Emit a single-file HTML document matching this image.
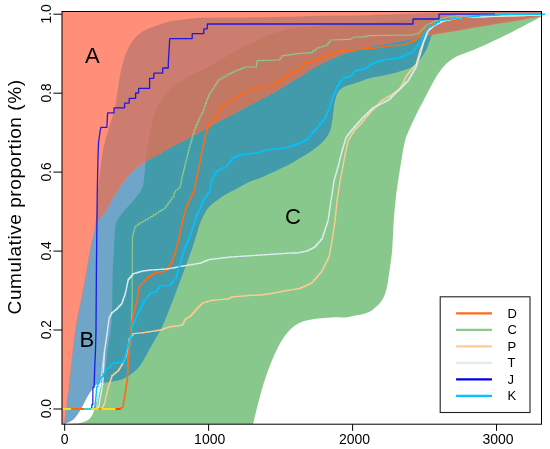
<!DOCTYPE html>
<html lang="en"><head><meta charset="utf-8"><title>Cumulative proportion</title>
<style>
html,body{margin:0;padding:0;background:#fff;}
body{width:550px;height:449px;overflow:hidden;}
svg{display:block;font-family:"Liberation Sans",Arial,Helvetica,sans-serif;fill:#000;}
.ln{fill:none;stroke-linejoin:bevel;stroke-linecap:butt;}
</style></head><body>
<svg width="550" height="449" viewBox="0 0 550 449">
<defs>
<clipPath id="box"><rect x="62" y="11.5" width="479.5" height="412.7"/></clipPath>
<mask id="cB" maskUnits="userSpaceOnUse" x="0" y="0" width="550" height="449"><path d="M63.6 424C63.7 423.7 63.8 423.7 64.1 422C64.4 420.3 64.6 419.6 65.4 413.6C66.2 407.6 67.5 396.3 68.7 386C69.9 375.7 71.1 362.7 72.4 352C73.7 341.3 74.9 331.1 76.4 322C77.9 312.9 79.7 306 81.4 297.3C83.1 288.6 85 278.1 86.5 270C88 261.9 88.7 256.3 90.1 249C91.5 241.7 93.9 232.9 95 226.4C96.1 219.9 96 216.1 96.5 210C97 203.9 97.4 196.3 98 190C98.6 183.7 99.2 178.2 100 172C100.8 165.8 101.5 158.7 102.5 153C103.5 147.3 104.8 142.8 106 138C107.2 133.2 108.6 129 110 124.5C111.4 120 113.1 115.3 114.2 111C115.3 106.7 115.6 104 116.4 98.9C117.2 93.8 118.3 85.7 119.2 80.2C120.1 74.7 120.8 70.8 122 66.1C123.2 61.4 124.8 56.4 126.6 52.1C128.4 47.8 130.1 43.8 132.8 40.4C135.5 37 138.3 34.1 142.7 31.5C147.1 28.9 153.5 26.6 159 24.8C164.5 23 169 21.7 175.5 20.6C182 19.5 190.8 18.5 198.2 18C205.6 17.5 211.4 17.5 220 17.4C228.6 17.3 236.7 17.6 250 17.4C263.3 17.2 285.7 16.7 300 16.4C314.3 16.1 326 15.8 336 15.6C346 15.4 346 15.8 360 15.4C374 15 403.3 13.7 420 13.2C436.7 12.7 439.8 12.5 460 12.2C480.2 11.9 527.5 11.5 541 11.3L541.5 15.4C536.2 16.2 520.2 18.8 510 20.4C499.8 22 490 23.5 480 25.2C470 26.9 457.7 29.2 450 30.6C442.3 32 437.3 31.9 434 33.5C430.7 35.1 431.3 37.2 430 40C428.7 42.8 428 46.3 426 50C424 53.7 420.7 59 418 62C415.3 65 414.7 66 410 68C405.3 70 396.7 72.3 390 74C383.3 75.7 375 76.8 370 78C365 79.2 363 80.5 360 81.5C357 82.5 355 82.9 352 84C349 85.1 344.5 86.3 342 88C339.5 89.7 338.3 91 337 94C335.7 97 334.8 101.3 334 106C333.2 110.7 332.8 117.5 332 122C331.2 126.5 330.7 129.6 329 133C327.3 136.4 324.8 139.6 322 142.5C319.2 145.4 315.7 147.9 312 150.5C308.3 153.1 303.7 155.8 300 158C296.3 160.2 295 161.4 290 164C285 166.6 275 171.2 270 173.5C265 175.8 263.3 176.7 260 178C256.7 179.3 252.3 180.6 250 181.5C247.7 182.4 248.7 182.1 246 183.5C243.3 184.9 236.7 188.6 234 190C231.3 191.4 232.3 190.7 230 192C227.7 193.3 223.7 195.3 220 198C216.3 200.7 211.2 204 208 208C204.8 212 202.5 217.3 200.5 222C198.5 226.7 197.5 231.3 196 236C194.5 240.7 193.2 245.2 191.5 250C189.8 254.8 187.8 260.2 186 265C184.2 269.8 183.1 272.9 181 278.5C178.9 284.1 175.7 292.8 173.5 298.5C171.3 304.2 169.9 307.8 168 312.5C166.1 317.2 164.1 322.7 162 327C159.9 331.3 157.7 334.7 155.5 338.5C153.3 342.3 150.7 347 149 350C147.3 353 147 354 145.5 356.6C144 359.2 142.1 362.9 140 365.6C137.9 368.3 135.4 370.9 132.7 373C130 375.1 126.6 377.1 123.6 378.5C120.6 379.9 117.2 380.5 114.5 381.1C111.8 381.7 109.5 381.9 107.3 382.2C105.1 382.5 103.3 382.4 101.4 382.8C99.5 383.2 97.8 383.5 96 384.9C94.2 386.3 92.2 389.2 90.7 391.4C89.2 393.6 88 395.6 86.7 398C85.4 400.4 84 403.6 82.7 406C81.4 408.4 80.2 410.5 78.7 412.7C77.2 414.9 75.5 417.6 73.4 419.4C71.3 421.2 67.5 422.6 66 423.4C64.5 424.2 64.8 424.1 64.5 424.2Z" fill="#fff"/></mask>
<mask id="cC" maskUnits="userSpaceOnUse" x="0" y="0" width="550" height="449"><path d="M66 424.2C67.5 424.1 72.4 423.8 75 423.6C77.6 423.4 79.2 423.4 81.4 422.8C83.6 422.2 86.2 421.2 88 420C89.8 418.8 91 417.1 92 415.4C93 413.7 93.5 412.2 94.2 410C94.9 407.8 95.5 404.9 96.3 402C97.1 399.1 98 395.8 98.9 392.7C99.8 389.6 100.8 386 101.6 383.4C102.3 380.8 102.8 379.6 103.4 377C104.1 374.4 104.8 372.5 105.5 368C106.2 363.5 106.8 355.5 107.6 350C108.3 344.5 109.3 339.7 110 335C110.7 330.3 111.1 326.8 111.5 322C111.9 317.2 112 314.7 112.2 306C112.4 297.3 112.5 278.8 112.8 270C113.1 261.2 113.5 258.7 113.8 253C114.1 247.3 114 241.2 114.5 236C115 230.8 115.1 226 116.6 222C118.1 218 120.7 215.4 123.5 211.8C126.3 208.2 130.4 204.2 133.3 200.7C136.2 197.1 139.2 193.5 140.9 190.5C142.6 187.5 142.8 187.3 143.6 182.7C144.4 178.1 144.9 169.1 145.5 163C146.1 156.9 146.4 152.2 147.3 146.4C148.2 140.6 149.6 133.9 151 128C152.4 122.1 153.9 115.5 155.5 111C157.1 106.5 158.4 104.6 160.8 101C163.2 97.4 166.7 93 170.2 89.5C173.7 86 178 82.7 181.9 80.2C185.8 77.7 189.7 76.2 193.6 74.3C197.5 72.3 200.9 70.8 205.3 68.5C209.7 66.2 214.2 63.6 220 60.3C225.8 57 235 51.2 240 48.5C245 45.8 246.7 45.6 250 44C253.3 42.4 256.7 40.6 260 39C263.3 37.4 265 36.2 270 34.5C275 32.8 283.3 30.4 290 29C296.7 27.6 302.5 27.1 310 26.4C317.5 25.7 326.7 25.2 335 24.8C343.3 24.4 347.3 24.9 360 24C372.7 23.1 394.3 20.7 411 19.6C427.7 18.5 445.2 17.8 460 17.2C474.8 16.6 486.5 16.4 500 16C513.5 15.6 534.2 14.8 541 14.5L541.5 16.6C538.7 18.1 531.9 21.7 524.9 25.3C517.9 28.9 508.2 34 499.8 38C491.4 42 481.3 46.7 474.7 49.5C468.1 52.3 463.4 53.6 460 55C456.6 56.4 456.3 56.5 454 58C451.7 59.5 448.7 61.3 446 64C443.3 66.7 440.7 70 438 74C435.3 78 432.3 83.7 430 88C427.7 92.3 426.1 95.8 424 99.8C421.9 103.8 419.9 107.1 417.5 112C415.1 116.9 411.6 124.2 409.5 129C407.4 133.8 406.3 136.2 405 141C403.7 145.8 402.9 151.5 401.8 158C400.7 164.5 399.2 173.8 398.3 180C397.4 186.2 397 188 396.2 195C395.4 202 394.3 213.3 393.7 222C393.1 230.7 392.8 240.7 392.4 247C391.9 253.3 391.8 254.1 391 260C390.2 265.9 388.6 277.6 387.8 282.7C387 287.8 386.7 288.2 386 290.7C385.3 293.2 384.4 295.7 383.4 297.8C382.4 299.9 381.1 301.6 379.8 303.2C378.5 304.8 376.9 306.2 375.3 307.6C373.7 309 371.7 310.6 370 311.6C368.3 312.6 366.9 312.8 365 313.4C363.1 314 361.6 314.3 358.3 315C355 315.7 349.4 317 345 317.4C340.6 317.8 337.2 317.1 331.6 317.4C326 317.7 317.2 318.4 311.6 319.4C306 320.4 302.1 321.3 298.2 323.4C294.3 325.5 291.5 327.9 288.2 331.8C284.9 335.7 281.5 340.4 278.2 346.8C274.9 353.2 271.2 361.9 268.1 370.2C265 378.5 262.3 387.9 259.8 396.9C257.3 405.9 254.2 419.5 253.1 424L66 424.2 Z" fill="#fff"/></mask>
<path id="pA" d="M62 424.2 L62 11.5 L541.5 11.5 L541.5 16.3C537.9 16.9 526.9 19 520 20.2C513.1 21.4 506.7 22.5 500 23.6C493.3 24.7 485.8 25.8 480 26.8C474.2 27.8 470 28.5 465 29.4C460 30.3 454.8 31.2 450 32C445.2 32.8 439.7 33.8 436 34.3C432.3 34.8 430.7 34.9 428 35.3C425.3 35.7 423 35.9 420 36.5C417 37.1 415 37.9 410 39C405 40.1 396.7 41.7 390 43C383.3 44.3 375 45.9 370 47C365 48.1 363.3 48.7 360 49.5C356.7 50.3 353.3 51 350 52C346.7 53 345 53.4 340 55.5C335 57.6 326.7 61 320 64.5C313.3 68 306.7 72.4 300 76.5C293.3 80.6 286.7 85.1 280 89C273.3 92.9 265 97 260 99.7C255 102.4 255 102.3 250 105C245 107.7 236.7 112.2 230 115.8C223.3 119.4 216.7 122.9 210 126.5C203.3 130.1 196.7 133.7 190 137.3C183.3 140.9 175 145.2 170 148C165 150.8 163 152.1 160 153.8C157 155.5 154.2 156.8 152 158C149.8 159.2 149.4 159.4 146.8 161C144.2 162.6 140 165 136.7 167.8C133.3 170.6 129.7 174.5 126.7 178C123.7 181.5 121.3 185.5 118.9 189C116.5 192.5 114.2 195.5 112.2 199C110.2 202.5 108.6 206.8 106.6 210C104.6 213.2 102.1 215.3 100.3 218C98.5 220.7 97.1 221.2 95.5 226.4C93.9 231.6 91.9 241.7 90.5 249C89.1 256.3 88.4 261.9 86.9 270C85.5 278.1 83.5 288.6 81.8 297.3C80.1 306 78.3 312.9 76.8 322C75.3 331.1 74.1 341.3 72.8 352C71.5 362.7 70.3 375.7 69.1 386C67.9 396.3 66.6 407.6 65.8 413.6C65 419.6 64.8 420.3 64.5 422C64.2 423.7 64.1 423.7 64 424Z"/>
<path id="pB" d="M63.6 424C63.7 423.7 63.8 423.7 64.1 422C64.4 420.3 64.6 419.6 65.4 413.6C66.2 407.6 67.5 396.3 68.7 386C69.9 375.7 71.1 362.7 72.4 352C73.7 341.3 74.9 331.1 76.4 322C77.9 312.9 79.7 306 81.4 297.3C83.1 288.6 85 278.1 86.5 270C88 261.9 88.7 256.3 90.1 249C91.5 241.7 93.9 232.9 95 226.4C96.1 219.9 96 216.1 96.5 210C97 203.9 97.4 196.3 98 190C98.6 183.7 99.2 178.2 100 172C100.8 165.8 101.5 158.7 102.5 153C103.5 147.3 104.8 142.8 106 138C107.2 133.2 108.6 129 110 124.5C111.4 120 113.1 115.3 114.2 111C115.3 106.7 115.6 104 116.4 98.9C117.2 93.8 118.3 85.7 119.2 80.2C120.1 74.7 120.8 70.8 122 66.1C123.2 61.4 124.8 56.4 126.6 52.1C128.4 47.8 130.1 43.8 132.8 40.4C135.5 37 138.3 34.1 142.7 31.5C147.1 28.9 153.5 26.6 159 24.8C164.5 23 169 21.7 175.5 20.6C182 19.5 190.8 18.5 198.2 18C205.6 17.5 211.4 17.5 220 17.4C228.6 17.3 236.7 17.6 250 17.4C263.3 17.2 285.7 16.7 300 16.4C314.3 16.1 326 15.8 336 15.6C346 15.4 346 15.8 360 15.4C374 15 403.3 13.7 420 13.2C436.7 12.7 439.8 12.5 460 12.2C480.2 11.9 527.5 11.5 541 11.3L541.5 15.4C536.2 16.2 520.2 18.8 510 20.4C499.8 22 490 23.5 480 25.2C470 26.9 457.7 29.2 450 30.6C442.3 32 437.3 31.9 434 33.5C430.7 35.1 431.3 37.2 430 40C428.7 42.8 428 46.3 426 50C424 53.7 420.7 59 418 62C415.3 65 414.7 66 410 68C405.3 70 396.7 72.3 390 74C383.3 75.7 375 76.8 370 78C365 79.2 363 80.5 360 81.5C357 82.5 355 82.9 352 84C349 85.1 344.5 86.3 342 88C339.5 89.7 338.3 91 337 94C335.7 97 334.8 101.3 334 106C333.2 110.7 332.8 117.5 332 122C331.2 126.5 330.7 129.6 329 133C327.3 136.4 324.8 139.6 322 142.5C319.2 145.4 315.7 147.9 312 150.5C308.3 153.1 303.7 155.8 300 158C296.3 160.2 295 161.4 290 164C285 166.6 275 171.2 270 173.5C265 175.8 263.3 176.7 260 178C256.7 179.3 252.3 180.6 250 181.5C247.7 182.4 248.7 182.1 246 183.5C243.3 184.9 236.7 188.6 234 190C231.3 191.4 232.3 190.7 230 192C227.7 193.3 223.7 195.3 220 198C216.3 200.7 211.2 204 208 208C204.8 212 202.5 217.3 200.5 222C198.5 226.7 197.5 231.3 196 236C194.5 240.7 193.2 245.2 191.5 250C189.8 254.8 187.8 260.2 186 265C184.2 269.8 183.1 272.9 181 278.5C178.9 284.1 175.7 292.8 173.5 298.5C171.3 304.2 169.9 307.8 168 312.5C166.1 317.2 164.1 322.7 162 327C159.9 331.3 157.7 334.7 155.5 338.5C153.3 342.3 150.7 347 149 350C147.3 353 147 354 145.5 356.6C144 359.2 142.1 362.9 140 365.6C137.9 368.3 135.4 370.9 132.7 373C130 375.1 126.6 377.1 123.6 378.5C120.6 379.9 117.2 380.5 114.5 381.1C111.8 381.7 109.5 381.9 107.3 382.2C105.1 382.5 103.3 382.4 101.4 382.8C99.5 383.2 97.8 383.5 96 384.9C94.2 386.3 92.2 389.2 90.7 391.4C89.2 393.6 88 395.6 86.7 398C85.4 400.4 84 403.6 82.7 406C81.4 408.4 80.2 410.5 78.7 412.7C77.2 414.9 75.5 417.6 73.4 419.4C71.3 421.2 67.5 422.6 66 423.4C64.5 424.2 64.8 424.1 64.5 424.2Z"/>
<path id="pC" d="M66 424.2C67.5 424.1 72.4 423.8 75 423.6C77.6 423.4 79.2 423.4 81.4 422.8C83.6 422.2 86.2 421.2 88 420C89.8 418.8 91 417.1 92 415.4C93 413.7 93.5 412.2 94.2 410C94.9 407.8 95.5 404.9 96.3 402C97.1 399.1 98 395.8 98.9 392.7C99.8 389.6 100.8 386 101.6 383.4C102.3 380.8 102.8 379.6 103.4 377C104.1 374.4 104.8 372.5 105.5 368C106.2 363.5 106.8 355.5 107.6 350C108.3 344.5 109.3 339.7 110 335C110.7 330.3 111.1 326.8 111.5 322C111.9 317.2 112 314.7 112.2 306C112.4 297.3 112.5 278.8 112.8 270C113.1 261.2 113.5 258.7 113.8 253C114.1 247.3 114 241.2 114.5 236C115 230.8 115.1 226 116.6 222C118.1 218 120.7 215.4 123.5 211.8C126.3 208.2 130.4 204.2 133.3 200.7C136.2 197.1 139.2 193.5 140.9 190.5C142.6 187.5 142.8 187.3 143.6 182.7C144.4 178.1 144.9 169.1 145.5 163C146.1 156.9 146.4 152.2 147.3 146.4C148.2 140.6 149.6 133.9 151 128C152.4 122.1 153.9 115.5 155.5 111C157.1 106.5 158.4 104.6 160.8 101C163.2 97.4 166.7 93 170.2 89.5C173.7 86 178 82.7 181.9 80.2C185.8 77.7 189.7 76.2 193.6 74.3C197.5 72.3 200.9 70.8 205.3 68.5C209.7 66.2 214.2 63.6 220 60.3C225.8 57 235 51.2 240 48.5C245 45.8 246.7 45.6 250 44C253.3 42.4 256.7 40.6 260 39C263.3 37.4 265 36.2 270 34.5C275 32.8 283.3 30.4 290 29C296.7 27.6 302.5 27.1 310 26.4C317.5 25.7 326.7 25.2 335 24.8C343.3 24.4 347.3 24.9 360 24C372.7 23.1 394.3 20.7 411 19.6C427.7 18.5 445.2 17.8 460 17.2C474.8 16.6 486.5 16.4 500 16C513.5 15.6 534.2 14.8 541 14.5L541.5 16.6C538.7 18.1 531.9 21.7 524.9 25.3C517.9 28.9 508.2 34 499.8 38C491.4 42 481.3 46.7 474.7 49.5C468.1 52.3 463.4 53.6 460 55C456.6 56.4 456.3 56.5 454 58C451.7 59.5 448.7 61.3 446 64C443.3 66.7 440.7 70 438 74C435.3 78 432.3 83.7 430 88C427.7 92.3 426.1 95.8 424 99.8C421.9 103.8 419.9 107.1 417.5 112C415.1 116.9 411.6 124.2 409.5 129C407.4 133.8 406.3 136.2 405 141C403.7 145.8 402.9 151.5 401.8 158C400.7 164.5 399.2 173.8 398.3 180C397.4 186.2 397 188 396.2 195C395.4 202 394.3 213.3 393.7 222C393.1 230.7 392.8 240.7 392.4 247C391.9 253.3 391.8 254.1 391 260C390.2 265.9 388.6 277.6 387.8 282.7C387 287.8 386.7 288.2 386 290.7C385.3 293.2 384.4 295.7 383.4 297.8C382.4 299.9 381.1 301.6 379.8 303.2C378.5 304.8 376.9 306.2 375.3 307.6C373.7 309 371.7 310.6 370 311.6C368.3 312.6 366.9 312.8 365 313.4C363.1 314 361.6 314.3 358.3 315C355 315.7 349.4 317 345 317.4C340.6 317.8 337.2 317.1 331.6 317.4C326 317.7 317.2 318.4 311.6 319.4C306 320.4 302.1 321.3 298.2 323.4C294.3 325.5 291.5 327.9 288.2 331.8C284.9 335.7 281.5 340.4 278.2 346.8C274.9 353.2 271.2 361.9 268.1 370.2C265 378.5 262.3 387.9 259.8 396.9C257.3 405.9 254.2 419.5 253.1 424L66 424.2 Z"/>
</defs>
<rect width="550" height="449" fill="#fff"/>
<g clip-path="url(#box)">
<use href="#pC" fill="#89c88c"/>
<use href="#pB" fill="#6ea5c8"/>
<g mask="url(#cC)"><use href="#pB" fill="#419baa"/></g>
<use href="#pA" fill="#ff8f79"/>
<g mask="url(#cC)"><use href="#pA" fill="#c87c66"/></g>
<g mask="url(#cB)"><use href="#pA" fill="#cd7d70"/>
<g mask="url(#cC)"><use href="#pA" fill="#c37864"/></g></g>
</g>
<g class="ln">
<polyline points="62.2,409 118.2,409 120.5,409 120.5,407.7 122.7,407.7 122.7,406.4 123.3,406.4 123.3,403.1 123.8,403.1 123.8,399.8 124.4,399.8 124.4,396.6 124.9,396.6 124.9,393.3 125.5,393.3 125.5,390 126,390 126,386.8 126.4,386.8 126.4,383.6 126.8,383.6 126.8,380.5 127.3,380.5 127.3,377.3 127.5,377.3 127.5,373.9 127.6,373.9 127.6,370.5 127.8,370.5 127.8,367.1 128,367.1 128,363.6 128.2,363.6 128.2,360.2 128.3,360.2 128.3,356.8 128.5,356.8 128.5,353.4 128.7,353.4 128.7,350 129.3,350 129.3,346.7 129.9,346.7 129.9,343.3 130.5,343.3 130.5,340 130.7,340 130.7,336.7 130.9,336.7 130.9,333.3 131.1,333.3 131.1,330 131.2,330 131.2,326.7 131.4,326.7 131.4,323.3 131.6,323.3 131.6,320 132.2,300 132.3,250 132.6,235 133.4,235 133.4,232 134.2,232 134.2,229 135,229 135,226 137.5,226 137.5,224.2 140,224.2 140,222.5 142.7,222.5 142.7,221 145.3,221 145.3,219.5 148,219.5 148,218 150.7,218 150.7,216.3 153.3,216.3 153.3,214.7 156,214.7 156,213 158.7,213 158.7,211.3 161.3,211.3 161.3,209.7 164,209.7 164,208 166,208 166,205.3 168,205.3 168,202.7 170,202.7 170,200 172,200 172,197 174,197 174,194 176,190 178,190 178,188 180,188 180,186 180.7,186 180.7,182.7 181.3,182.7 181.3,179.3 182,179.3 182,176 182.8,176 182.8,172.8 183.6,172.8 183.6,169.6 184.4,169.6 184.4,166.4 185.2,166.4 185.2,163.2 186,163.2 186,160 186.8,160 186.8,156.8 187.6,156.8 187.6,153.6 188.4,153.6 188.4,150.4 189.2,150.4 189.2,147.2 190,147.2 190,144 191,144 191,140.5 192,140.5 192,137 193,137 193,133.5 194,133.5 194,130 195.2,130 195.2,127.2 196.4,127.2 196.4,124.4 197.6,124.4 197.6,121.6 198.8,121.6 198.8,118.8 200,118.8 200,116 201.5,116 201.5,112.9 203,112.9 203,109.8 204.2,109.8 204.2,106.5 205.3,106.5 205.3,103.3 206.5,103.3 206.5,100 207.7,100 207.7,97.3 208.8,97.3 208.8,94.7 210,94.7 210,92 212,92 212,89 214,89 214,86 215.7,86 215.7,83.7 217.3,83.7 217.3,81.3 219,81.3 219,79 222.5,79 222.5,77 226,77 226,75 228.7,75 228.7,73.7 231.3,73.7 231.3,72.3 234,72.3 234,71 237.3,71 237.3,69.7 240.7,69.7 240.7,68.3 244,68.3 244,67 256,67 256.5,67 256.5,63.8 257,63.8 257,60.6 278,60 280,60 280,57.8 282,57.8 282,55.6 285.5,55.6 285.5,55.1 289,55.1 289,54.6 292.5,54.6 292.5,54.1 296,54.1 296,53.6 299.5,53.6 299.5,53.4 303,53.4 303,53.1 306.5,53.1 306.5,52.9 310,52.9 310,52.6 313,52.6 313,50.3 316,50.3 316,48 319.3,48 319.3,47 322.7,47 322.7,46 326,46 326,45 328,45 328,42.5 330,42.5 330,40 350,39.4 354,37 362,37 365,37 365,36.3 368,36.3 368,35.6 410,35 414,35 414,34 418,34 418,33 420,33 420,31 422,31 422,29 424,29 424,27 426,27 426,25 429,25 429,23.5 432,23.5 432,22 435,22 435,20.5 438,20.5 438,19 442,19 442,18 446,18 446,17 449.5,17 449.5,16.6 453,16.6 453,16.1 456.5,16.1 456.5,15.7 460,15.7 460,15.3 463.3,15.3 463.3,15.3 466.5,15.3 466.5,15.2 469.8,15.2 469.8,15.2 473,15.2 473,15.2 476.3,15.2 476.3,15.1 479.6,15.1 479.6,15.1 482.8,15.1 482.8,15 486.1,15 486.1,15 489.3,15 489.3,15 492.6,15 492.6,14.9 495.9,14.9 495.9,14.9 499.1,14.9 499.1,14.9 502.4,14.9 502.4,14.8 505.6,14.8 505.6,14.8 508.9,14.8 508.9,14.8 512.2,14.8 512.2,14.7 515.4,14.7 515.4,14.7 518.7,14.7 518.7,14.7 521.9,14.7 521.9,14.6 525.2,14.6 525.2,14.6 528.5,14.6 528.5,14.5 531.7,14.5 531.7,14.5 535,14.5 535,14.5 538.2,14.5 538.2,14.4 541.5,14.4 541.5,14.4" stroke="#8cc88c" stroke-width="1.2"/>
<polyline points="62.2,409 118.2,409 120.5,409 120.5,407.7 122.7,407.7 122.7,406.4 123.3,406.4 123.3,403.1 123.8,403.1 123.8,399.8 124.4,399.8 124.4,396.6 124.9,396.6 124.9,393.3 125.5,393.3 125.5,390 126,390 126,386.8 126.4,386.8 126.4,383.6 126.8,383.6 126.8,380.5 127.3,380.5 127.3,377.3 127.5,377.3 127.5,373.9 127.6,373.9 127.6,370.5 127.8,370.5 127.8,367.1 128,367.1 128,363.6 128.2,363.6 128.2,360.2 128.3,360.2 128.3,356.8 128.5,356.8 128.5,353.4 128.7,353.4 128.7,350 129.1,350 129.1,346.7 129.6,346.7 129.6,343.3 130,343.3 130,340 130.3,340 130.3,336.7 130.7,336.7 130.7,333.3 131,333.3 131,330 131.3,330 131.3,326.7 131.7,326.7 131.7,323.3 132,323.3 132,320 132.8,320 132.8,316.5 133.5,316.5 133.5,313 134.2,313 134.2,309.5 135,309.5 135,306 136,306 136,303 137,303 137,300 137.5,300 137.5,296.5 138,296.5 138,293 138.5,293 138.5,289.5 139,289.5 139,286 141.3,286 141.3,283.3 143.7,283.3 143.7,280.7 146,280.7 146,278 148.7,278 148.7,276.3 151.3,276.3 151.3,274.7 154,274.7 154,273 157.3,273 157.3,272.3 160.7,272.3 160.7,271.7 164,271.7 164,271 166.5,271 166.5,268.5 169,268.5 169,266 170.5,266 170.5,263 172,263 172,260 173,260 173,257.3 174,257.3 174,254.7 175,254.7 175,252 175.8,252 175.8,249 176.6,249 176.6,246 177.4,246 177.4,243 178.2,243 178.2,240 179,240 179,237 179.6,237 179.6,234 180.2,234 180.2,231 180.8,231 180.8,228 181.4,228 181.4,225 182,225 182,222 182.8,222 182.8,219 183.5,219 183.5,216 184.2,216 184.2,213 185,213 185,210 186,210 186,207.3 187,207.3 187,204.7 188,204.7 188,202 189.5,202 189.5,199 191,199 191,196 192.5,196 192.5,193 194,193 194,190 194.7,190 194.7,186.7 195.3,186.7 195.3,183.3 196,183.3 196,180 196.7,180 196.7,176.7 197.3,176.7 197.3,173.3 198,173.3 198,170 198.7,170 198.7,166.7 199.3,166.7 199.3,163.3 200,163.3 200,160 200.7,160 200.7,156.7 201.3,156.7 201.3,153.3 202,153.3 202,150 202.7,150 202.7,147 203.3,147 203.3,144 204,144 204,141 204.7,141 204.7,138 205.3,138 205.3,135 206,135 206,132 207,132 207,129.3 208,129.3 208,126.7 209,126.7 209,124 211.3,124 211.3,121.3 213.7,121.3 213.7,118.7 216,118.7 216,116 217.3,116 217.3,113 218.7,113 218.7,110 220,110 220,107 223,107 223,104.5 226,104.5 226,102 228.7,102 228.7,101.2 231.3,101.2 231.3,100.3 234,100.3 234,99.5 236,99.5 236,97.2 238,97.2 238,95 240.7,95 240.7,94 243.3,94 243.3,93 246,93 246,92 250,90 253.5,90 253.5,89 257,89 257,88 260.5,88 260.5,87 264,87 264,86 270,85.6 273,85.6 273,83.9 276,83.9 276,82.3 279,82.3 279,80.7 282,80.7 282,79 284.8,79 284.8,77 287.5,77 287.5,75 290.2,75 290.2,73 293,73 293,71 296,71 296,70 299,70 299,69 301.5,69 301.5,66 304,66 304,63 307,63 307,62.2 310,62.2 310,61.5 313,61.5 313,60.8 316,60.8 316,60 318,60 318,58.5 320,58.5 320,57 323.3,57 323.3,56 326.7,56 326.7,55 330,55 330,54 332.7,54 332.7,53 335.3,53 335.3,52 338,52 338,51 341,51 341,50.8 344,50.8 344,50.5 347,50.5 347,50.2 350,50.2 350,50 353,50 353,49.8 356,49.8 356,49.5 359,49.5 359,49.2 362,49.2 362,49 365,49 365,48.8 368,48.8 368,48.5 371,48.5 371,48.2 374,48.2 374,48 377,48 377,47.5 380,47.5 380,47 383,47 383,46.5 386,46.5 386,46 389.2,46 389.2,45.8 392.4,45.8 392.4,45.6 395.6,45.6 395.6,45.4 398.8,45.4 398.8,45.2 402,45.2 402,45 404.7,45 404.7,44 407.3,44 407.3,43 410,43 410,42 412.5,42 412.5,40.5 415,40.5 415,39 417.5,39 417.5,37.5 419.8,37.5 419.8,34.8 422,34.8 422,32 424,32 424,30 426,30 426,28 429,25.5 431.9,25.5 431.9,24.3 434.9,24.3 434.9,23 437.8,23 437.8,21.8 448,21.1 451.4,21.1 451.4,20.4 454.8,20.4 454.8,19.6 458.2,19.6 458.2,18.9 461.3,18.9 461.3,18.5 464.4,18.5 464.4,18.1 467.5,18.1 467.5,17.7 470.7,17.7 470.7,17.2 473.8,17.2 473.8,16.8 476.9,16.8 476.9,16.4 480,16.4 480,16 483.3,16 483.3,15.9 486.7,15.9 486.7,15.8 490,15.8 490,15.7 493.3,15.7 493.3,15.6 496.7,15.6 496.7,15.4 500,15.4 500,15.3 503.3,15.3 503.3,15.2 506.7,15.2 506.7,15.1 510,15.1 510,15 541.5,14.4" stroke="#ff6a14" stroke-width="1.6"/>
<polyline points="62.2,409 100.9,409 102.1,409 102.1,406.9 103.3,406.9 103.3,404.8 104.5,404.8 104.5,402.7 105,402.7 105,400.7 105.4,400.7 105.4,398.6 105.9,398.6 105.9,396.6 106.3,396.6 106.3,394.5 106.8,394.5 106.8,392.5 107.3,392.5 107.3,390.5 107.7,390.5 107.7,388.4 108.2,388.4 108.2,386.4 108.9,386.4 108.9,384.2 109.6,384.2 109.6,382 110.4,382 110.4,379.9 111.1,379.9 111.1,377.7 111.8,377.7 111.8,375.5 113.4,375.5 113.4,374.1 115,374.1 115,372.8 116.6,372.8 116.6,371.4 118.2,371.4 118.2,370 119.3,370 119.3,368.2 120.5,368.2 120.5,366.4 121.6,366.4 121.6,364.5 122.7,364.5 122.7,362.7 123.6,362.7 123.6,360.4 124.6,360.4 124.6,358.1 125.5,358.1 125.5,355.9 126.4,355.9 126.4,353.6 126.8,353.6 126.8,351.8 127.3,351.8 127.3,350 127.6,350 127.6,347.8 128,347.8 128,345.6 128.3,345.6 128.3,343.4 128.7,343.4 128.7,341.2 129,341.2 129,339 130.2,339 130.2,337.2 131.5,337.2 131.5,335.4 132.7,335.4 132.7,333.6 135,333.6 135,333.4 137.2,333.4 137.2,333.1 139.5,333.1 139.5,332.9 141.8,332.9 141.8,332.7 144.1,332.7 144.1,332.4 146.4,332.4 146.4,332 148.6,332 148.6,331.7 150.9,331.7 150.9,331.4 153.2,331.4 153.2,331 155.4,331 155.4,330.7 157.7,330.7 157.7,330.3 160,330.3 160,330 162,330 162,329.2 164,329.2 164,328.5 166,328.5 166,327.8 168,327.8 168,327 170.3,327 170.3,326.7 172.7,326.7 172.7,326.3 175,326.3 175,326 177.3,326 177.3,325.7 179.7,325.7 179.7,325.3 182,325.3 182,325 183,325 183,323 184,323 184,321 185,321 185,319 186.7,319 186.7,318 188.3,318 188.3,317 190,317 190,316 191.5,316 191.5,314.2 193,314.2 193,312.5 194.5,312.5 194.5,310.8 196,310.8 196,309 197.5,309 197.5,307.5 199,307.5 199,306 200.5,306 200.5,304.5 202,304.5 202,303 204,303 204,302.4 206,302.4 206,301.8 208,301.8 208,301.1 210,301.1 210,300.5 212.2,300.5 212.2,300.3 214.5,300.3 214.5,300.1 216.8,300.1 216.8,299.9 219,299.9 219,299.6 221.2,299.6 221.2,299.4 223.5,299.4 223.5,299.2 225.8,299.2 225.8,299 228,299 228,298.8 229.5,298.8 229.5,297.9 231,297.9 231,297 233.1,297 233.1,296.8 235.2,296.8 235.2,296.6 237.4,296.6 237.4,296.4 239.5,296.4 239.5,296.2 241.6,296.2 241.6,296.1 243.8,296.1 243.8,295.9 245.9,295.9 245.9,295.7 248,295.7 248,295.5 260,295 262.2,295 262.2,294.7 264.3,294.7 264.3,294.3 266.5,294.3 266.5,294 268.7,294 268.7,293.7 270.8,293.7 270.8,293.3 273,293.3 273,293 275.2,293 275.2,292.6 277.3,292.6 277.3,292.2 279.5,292.2 279.5,291.8 281.7,291.8 281.7,291.3 283.8,291.3 283.8,290.9 286,290.9 286,290.5 288,290.5 288,290.2 290,290.2 290,289.9 292,289.9 292,289.6 294,289.6 294,289.3 296,289.3 296,289 298,289 298,288.7 300.2,288.7 300.2,287.8 302.3,287.8 302.3,286.8 304.5,286.8 304.5,285.9 306.7,285.9 306.7,284.9 308.8,284.9 308.8,283.9 311,283.9 311,283 312.4,283 312.4,281.4 313.9,281.4 313.9,279.8 315.3,279.8 315.3,278.2 316.7,278.2 316.7,276.5 318.1,276.5 318.1,274.9 319.6,274.9 319.6,273.3 321,273.3 321,271.7 322,271.7 322,269.8 323,269.8 323,267.9 324,267.9 324,266 325,266 325,264 326,264 326,262 327,262 327,260 328,260 328,258 329,258 329,256 329.4,256 329.4,253.7 329.9,253.7 329.9,251.4 330.3,251.4 330.3,249.1 330.7,249.1 330.7,246.9 331.1,246.9 331.1,244.6 331.6,244.6 331.6,242.3 332,242.3 332,240 332.3,240 332.3,237.8 332.7,237.8 332.7,235.6 333,235.6 333,233.3 333.3,233.3 333.3,231.1 333.7,231.1 333.7,228.9 334,228.9 334,226.7 334.3,226.7 334.3,224.4 334.7,224.4 334.7,222.2 335,222.2 335,220 335.2,220 335.2,217.8 335.4,217.8 335.4,215.6 335.7,215.6 335.7,213.3 335.9,213.3 335.9,211.1 336.1,211.1 336.1,208.9 336.3,208.9 336.3,206.7 336.6,206.7 336.6,204.4 336.8,204.4 336.8,202.2 337,202.2 337,200 337.3,200 337.3,197.8 337.7,197.8 337.7,195.6 338,195.6 338,193.3 338.3,193.3 338.3,191.1 338.7,191.1 338.7,188.9 339,188.9 339,186.7 339.3,186.7 339.3,184.4 339.7,184.4 339.7,182.2 340,182.2 340,180 340.4,180 340.4,178 340.8,178 340.8,176 341.2,176 341.2,174 341.6,174 341.6,172 342,172 342,170 342.4,170 342.4,167.7 342.9,167.7 342.9,165.4 343.3,165.4 343.3,163.1 343.7,163.1 343.7,160.9 344.1,160.9 344.1,158.6 344.6,158.6 344.6,156.3 345,156.3 345,154 345.4,154 345.4,152 345.9,152 345.9,150 346.3,150 346.3,148 346.7,148 346.7,146 347.1,146 347.1,144 347.6,144 347.6,142 348,142 348,140 349.2,140 349.2,138 350.4,138 350.4,136 351.6,136 351.6,134 352.8,134 352.8,132 354,132 354,130 355.5,130 355.5,128.5 357,128.5 357,127 358.5,127 358.5,125.5 360,125.5 360,124 361.4,124 361.4,122.3 362.9,122.3 362.9,120.6 364.3,120.6 364.3,118.9 365.7,118.9 365.7,117.1 367.1,117.1 367.1,115.4 368.6,115.4 368.6,113.7 370,113.7 370,112 371.5,112 371.5,110.5 373,110.5 373,109 374.5,109 374.5,107.4 376,107.4 376,105.9 377.5,105.9 377.5,104.4 379,104.4 379,102.8 380.5,102.8 380.5,101.3 382,101.3 382,99.8 384,99.8 384,98.6 386,98.6 386,97.5 388,97.5 388,96.3 390,96.3 390,95.2 392,95.2 392,94 393.6,94 393.6,92.8 395.2,92.8 395.2,91.6 396.8,91.6 396.8,90.4 398.4,90.4 398.4,89.2 400,89.2 400,88 401,88 401,86 402,86 402,84 403,84 403,82 404,82 404,80 405,80 405,78 406,78 406,76 407.2,76 407.2,74.4 408.4,74.4 408.4,72.8 409.6,72.8 409.6,71.2 410.8,71.2 410.8,69.6 412,69.6 412,68 413.3,68 413.3,66.7 414.7,66.7 414.7,65.3 416,65.3 416,64 416.6,64 416.6,62 417.1,62 417.1,60 417.7,60 417.7,58 418.3,58 418.3,56 418.9,56 418.9,54 419.4,54 419.4,52 420,52 420,50 420.8,50 420.8,48 421.6,48 421.6,46 422.4,46 422.4,44 423.2,44 423.2,42 424,42 424,40 424.8,40 424.8,38 425.6,38 425.6,36 426.4,36 426.4,34 427.2,34 427.2,32 428,32 428,30 429.5,30 429.5,28.8 431,28.8 431,27.5 432.5,27.5 432.5,26.2 434,26.2 434,25 436,25 436,24 438,24 438,23 440,23 440,22 442,22 442,21 444.2,21 444.2,20.6 446.5,20.6 446.5,20.1 448.8,20.1 448.8,19.7 451,19.7 451,19.2 453.2,19.2 453.2,18.8 455.5,18.8 455.5,18.4 457.8,18.4 457.8,17.9 460,17.9 460,17.5 462.2,17.5 462.2,17.4 464.4,17.4 464.4,17.4 466.7,17.4 466.7,17.3 468.9,17.3 468.9,17.2 471.1,17.2 471.1,17.1 473.3,17.1 473.3,17.1 475.6,17.1 475.6,17 477.8,17 477.8,16.9 480,16.9 480,16.9 482.2,16.9 482.2,16.8 484.4,16.8 484.4,16.7 486.7,16.7 486.7,16.6 488.9,16.6 488.9,16.6 491.1,16.6 491.1,16.5 493.3,16.5 493.3,16.4 495.6,16.4 495.6,16.3 497.8,16.3 497.8,16.3 500,16.3 500,16.2 502.2,16.2 502.2,16.1 504.4,16.1 504.4,16.1 506.6,16.1 506.6,16 508.7,16 508.7,15.9 510.9,15.9 510.9,15.9 513.1,15.9 513.1,15.8 515.3,15.8 515.3,15.8 517.5,15.8 517.5,15.7 519.7,15.7 519.7,15.6 521.8,15.6 521.8,15.6 524,15.6 524,15.5 526.2,15.5 526.2,15.4 528.4,15.4 528.4,15.4 530.6,15.4 530.6,15.3 532.8,15.3 532.8,15.3 534.9,15.3 534.9,15.2 537.1,15.2 537.1,15.1 539.3,15.1 539.3,15.1 541.5,15.1 541.5,15" stroke="#fdcc96" stroke-width="1.4"/>
<polyline points="62.2,409 97,409 98,409 98,406.8 99,406.8 99,404.5 99.4,404.5 99.4,402.3 99.7,402.3 99.7,400.1 100.1,400.1 100.1,398 100.5,398 100.5,395.8 100.8,395.8 100.8,393.6 101.2,393.6 101.2,391.4 101.6,391.4 101.6,389.2 102,389.2 102,387.1 102.3,387.1 102.3,384.9 102.7,384.9 102.7,382.7 102.8,382.7 102.8,380.5 102.9,380.5 102.9,378.3 103.1,378.3 103.1,376.2 103.2,376.2 103.2,374 103.3,374 103.3,371.8 103.4,371.8 103.4,369.6 103.5,369.6 103.5,367.4 103.7,367.4 103.7,365.3 103.8,365.3 103.8,363.1 103.9,363.1 103.9,360.9 104,360.9 104,358.7 104.1,358.7 104.1,356.5 104.3,356.5 104.3,354.4 104.4,354.4 104.4,352.2 104.5,352.2 104.5,350 104.8,350 104.8,347.8 105.2,347.8 105.2,345.6 105.5,345.6 105.5,343.4 105.8,343.4 105.8,341.1 106.2,341.1 106.2,338.9 106.5,338.9 106.5,336.7 106.8,336.7 106.8,334.5 107.1,334.5 107.1,332.3 107.4,332.3 107.4,330 107.7,330 107.7,327.8 108,327.8 108,325.6 108.3,325.6 108.3,323.4 108.6,323.4 108.6,321.3 108.9,321.3 108.9,319.1 109.2,319.1 109.2,317 110.3,317 110.3,314.9 111.4,314.9 111.4,312.7 112.9,312.7 112.9,311.6 114.3,311.6 114.3,310.4 115.8,310.4 115.8,309.3 117.3,309.3 117.3,307.6 118.8,307.6 118.8,306 120.3,306 120.3,304.4 121.8,304.4 121.8,302.7 122.5,302.7 122.5,300.5 123.3,300.5 123.3,298.3 124,298.3 124,296.2 124.8,296.2 124.8,294 125.5,294 125.5,291.8 126,291.8 126,289.7 126.4,289.7 126.4,287.5 126.8,287.5 126.8,285.4 127.3,285.4 127.3,283.3 127.7,283.3 127.7,281.1 128.2,281.1 128.2,279 129.7,279 129.7,277.2 131.2,277.2 131.2,275.4 132.7,275.4 132.7,273.6 135,273.6 135,273 137.2,273 137.2,272.3 139.5,272.3 139.5,271.6 141.8,271.6 141.8,271 143.9,271 143.9,270.8 145.9,270.8 145.9,270.5 147.9,270.5 147.9,270.2 150,270.2 150,270 152.3,270 152.3,269.9 154.6,269.9 154.6,269.7 156.9,269.7 156.9,269.6 159.1,269.6 159.1,269.4 161.4,269.4 161.4,269.3 163.7,269.3 163.7,269.1 166,269.1 166,269 168.3,269 168.3,268.6 170.7,268.6 170.7,268.1 173,268.1 173,267.7 175.3,267.7 175.3,267.3 177.7,267.3 177.7,266.8 180,266.8 180,266.4 182.2,266.4 182.2,266 184.4,266 184.4,265.6 186.7,265.6 186.7,265.3 188.9,265.3 188.9,264.9 191.1,264.9 191.1,264.5 193.3,264.5 193.3,264.1 195.6,264.1 195.6,263.8 197.8,263.8 197.8,263.4 200,263.4 200,263 202,263 202,262.1 204,262.1 204,261.3 206,261.3 206,260.5 208,260.5 208,259.6 210.2,259.6 210.2,259.3 212.4,259.3 212.4,259.1 214.6,259.1 214.6,258.8 216.8,258.8 216.8,258.6 219,258.6 219,258.3 221.2,258.3 221.2,258 223.4,258 223.4,257.8 225.6,257.8 225.6,257.5 227.8,257.5 227.8,257.3 230,257.3 230,257 232.1,257 232.1,256.9 234.3,256.9 234.3,256.7 236.4,256.7 236.4,256.6 238.6,256.6 238.6,256.4 240.7,256.4 240.7,256.3 242.9,256.3 242.9,256.1 245,256.1 245,256 247.1,256 247.1,255.9 249.3,255.9 249.3,255.7 251.4,255.7 251.4,255.6 253.6,255.6 253.6,255.4 255.7,255.4 255.7,255.3 257.9,255.3 257.9,255.1 260,255.1 260,255 262.1,255 262.1,254.9 264.3,254.9 264.3,254.7 266.4,254.7 266.4,254.6 268.6,254.6 268.6,254.4 270.7,254.4 270.7,254.3 272.9,254.3 272.9,254.1 275,254.1 275,254 277.1,254 277.1,253.9 279.3,253.9 279.3,253.7 281.4,253.7 281.4,253.6 283.6,253.6 283.6,253.4 285.7,253.4 285.7,253.3 287.9,253.3 287.9,253.1 290,253.1 290,253 296,253 298,253 298,252.6 300,252.6 300,252.2 302,252.2 302,251.8 304,251.8 304,251.4 306,251.4 306,251 308,251 308,250 310,250 310,249 312,249 312,248 314,248 314,247 315.6,247 315.6,245.2 317.2,245.2 317.2,243.4 318.8,243.4 318.8,241.6 320.4,241.6 320.4,239.8 322,239.8 322,238 322.7,238 322.7,236 323.3,236 323.3,234 324,234 324,232 324.7,232 324.7,230 325.3,230 325.3,228 326,228 326,226 326.7,226 326.7,224 327.3,224 327.3,222 328,222 328,220 328.3,220 328.3,217.8 328.7,217.8 328.7,215.6 329,215.6 329,213.3 329.3,213.3 329.3,211.1 329.7,211.1 329.7,208.9 330,208.9 330,206.7 330.3,206.7 330.3,204.4 330.7,204.4 330.7,202.2 331,202.2 331,200 331.3,200 331.3,197.8 331.7,197.8 331.7,195.6 332,195.6 332,193.3 332.3,193.3 332.3,191.1 332.7,191.1 332.7,188.9 333,188.9 333,186.7 333.3,186.7 333.3,184.4 333.7,184.4 333.7,182.2 334,182.2 334,180 334.6,180 334.6,178 335.1,178 335.1,176 335.7,176 335.7,174 336.3,174 336.3,172 336.9,172 336.9,170 337.4,170 337.4,168 338,168 338,166 338.6,166 338.6,163.7 339.1,163.7 339.1,161.4 339.7,161.4 339.7,159.1 340.3,159.1 340.3,156.9 340.9,156.9 340.9,154.6 341.4,154.6 341.4,152.3 342,152.3 342,150 342.7,150 342.7,147.8 343.3,147.8 343.3,145.7 344,145.7 344,143.5 344.7,143.5 344.7,141.3 345.3,141.3 345.3,139.2 346,139.2 346,137 347.2,137 347.2,135.4 348.4,135.4 348.4,133.8 349.6,133.8 349.6,132.2 350.8,132.2 350.8,130.6 352,130.6 352,129 353.6,129 353.6,127.2 355.2,127.2 355.2,125.4 356.8,125.4 356.8,123.6 358.4,123.6 358.4,121.8 360,121.8 360,120 361.5,120 361.5,118.5 363,118.5 363,117 364.5,117 364.5,115.5 366,115.5 366,114 367.5,114 367.5,112.5 369,112.5 369,111 370.5,111 370.5,109.5 372,109.5 372,108 374,108 374,107 376,107 376,106 378,106 378,104.9 380,104.9 380,103.9 382,103.9 382,102.9 384,102.9 384,101.8 386,101.8 386,100.8 388,100.8 388,99.8 389.7,99.8 389.7,98.2 391.3,98.2 391.3,96.5 393,96.5 393,94.9 394.7,94.9 394.7,93.3 396.3,93.3 396.3,91.6 398,91.6 398,90 399.7,90 399.7,88.3 401.3,88.3 401.3,86.7 403,86.7 403,85 404.7,85 404.7,83.3 406.3,83.3 406.3,81.7 408,81.7 408,80 409.1,80 409.1,78 410.3,78 410.3,76 411.4,76 411.4,74 412.6,74 412.6,72 413.7,72 413.7,70 414.9,70 414.9,68 416,68 416,66 416.7,66 416.7,64 417.3,64 417.3,62 418,62 418,60 418.7,60 418.7,58 419.3,58 419.3,56 420,56 420,54 420.6,54 420.6,52 421.1,52 421.1,50 421.7,50 421.7,48 422.3,48 422.3,46 422.9,46 422.9,44 423.4,44 423.4,42 424,42 424,40 424.8,40 424.8,38 425.6,38 425.6,36 426.4,36 426.4,34 427.2,34 427.2,32 428,32 428,30 429.5,30 429.5,28.8 431,28.8 431,27.5 432.5,27.5 432.5,26.2 434,26.2 434,25 436,25 436,24 438,24 438,23 440,23 440,22 442,22 442,21 444.2,21 444.2,20.6 446.5,20.6 446.5,20.1 448.8,20.1 448.8,19.7 451,19.7 451,19.2 453.2,19.2 453.2,18.8 455.5,18.8 455.5,18.4 457.8,18.4 457.8,17.9 460,17.9 460,17.5 462.2,17.5 462.2,17.4 464.4,17.4 464.4,17.3 466.7,17.3 466.7,17.2 468.9,17.2 468.9,17.2 471.1,17.2 471.1,17.1 473.3,17.1 473.3,17 475.6,17 475.6,16.9 477.8,16.9 477.8,16.8 480,16.8 480,16.8 482.2,16.8 482.2,16.7 484.4,16.7 484.4,16.6 486.7,16.6 486.7,16.5 488.9,16.5 488.9,16.4 491.1,16.4 491.1,16.3 493.3,16.3 493.3,16.2 495.6,16.2 495.6,16.2 497.8,16.2 497.8,16.1 500,16.1 500,16 502.2,16 502.2,15.9 504.4,15.9 504.4,15.9 506.6,15.9 506.6,15.8 508.7,15.8 508.7,15.8 510.9,15.8 510.9,15.7 513.1,15.7 513.1,15.7 515.3,15.7 515.3,15.6 517.5,15.6 517.5,15.6 519.7,15.6 519.7,15.5 521.8,15.5 521.8,15.5 524,15.5 524,15.4 526.2,15.4 526.2,15.4 528.4,15.4 528.4,15.3 530.6,15.3 530.6,15.3 532.8,15.3 532.8,15.2 534.9,15.2 534.9,15.2 537.1,15.2 537.1,15.1 539.3,15.1 539.3,15.1 541.5,15.1 541.5,15" stroke="#dcecf0" stroke-width="1.4"/>
<polyline points="96.5,409 98.5,395 101,379 102.5,365 104.3,352" stroke="#dcecf0" stroke-width="1" stroke-opacity="0.8"/>
<polyline points="62.2,409 91.8,409 91.9,404.5 92.8,404.5 92.9,387.5 94.1,387.3 94.6,370 95.5,350 96,330 96.4,270 97.3,190 97.8,164.5 98.5,142.7 100,131.8 100.9,127.3 106.9,127.3 107.6,112.9 114,112.9 114,107.8 124.6,107.8 124.6,103.1 129.2,103.1 129.2,98.4 135.6,98.4 135.6,93 138.6,93 138.6,88.4 149.6,88.4 149.6,78.3 153.8,78.3 153.8,73.2 162.7,73.2 162.7,68 168.3,68 168.3,63.8 169.7,38.7 192.2,38.7 192.2,33.7 203.8,33.7 203.8,28.8 207.3,28.8 207.3,24 413,24 413,19 439,19 439,14.2 495,14.2" stroke="#0a0aeb" stroke-width="1.3" stroke-opacity="0.88"/>
<polyline points="62.2,409 94.4,409 94.8,409 94.8,406 95.1,406 95.1,403 95.5,403 95.5,400 95.8,400 95.8,396.7 96.1,396.7 96.1,393.4 96.4,393.4 96.4,390 96.7,390 96.7,386.7 97.8,386.7 97.8,383.6 99,383.6 99,380.5 102,376.6 103.6,376.6 103.6,373.5 105.2,373.5 105.2,370.4 108.4,368 110.7,365.7 113,363 123.2,362.6 124,362.6 124,359.8 124.7,359.8 124.7,357 125.5,357 125.5,353.9 126.2,353.9 126.2,350.9 127,350.9 127,347.8 128,347.8 128,344.5 129,344.5 129,341.3 130,341.3 130,338 130.9,338 130.9,334 131.8,334 131.8,330 132,326 133.2,326 133.2,323.2 134.4,323.2 134.4,320.4 135.6,320.4 135.6,317.6 136.8,317.6 136.8,314.8 138,314.8 138,312 139.5,312 139.5,309 141,309 141,306 142.5,306 142.5,303 144,303 144,300 146,300 146,297.7 148,297.7 148,295.3 150,295.3 150,293 153,293 153,292 156,292 156,291 157.5,291 157.5,288.5 159,288.5 159,286 169,285.6 171,285.6 171,282.8 173,282.8 173,280 175.5,278 176.5,278 176.5,274.5 177.5,274.5 177.5,271 178.5,271 178.5,267.5 179.5,267.5 179.5,264 180.4,264 180.4,261 181.3,261 181.3,258 182.2,258 182.2,255 183.2,255 183.2,252 184.1,252 184.1,249 185,249 185,246 186.5,246 186.5,243 188,243 188,240 189,240 189,237.2 190,237.2 190,234.4 191,234.4 191,231.6 192,231.6 192,228.5 193,228.5 193,225.4 194,225.4 194,222.2 195,222.2 195,219.1 196,219.1 196,216 197.3,216 197.3,213 198.7,213 198.7,210 200,210 200,207 201.3,207 201.3,204 202.7,204 202.7,201 204,201 204,198 205.8,198 205.8,195.3 207.7,195.3 207.7,192.7 209.5,192.7 209.5,190 210.1,190 210.1,187 210.8,187 210.8,184 211.4,184 211.4,181 212,181 212,178 214,178 214,174.5 216,174.5 216,171 219.3,171 219.3,169.3 222.7,169.3 222.7,167.7 226,167.7 226,166 228,166 228,163.3 230,163.3 230,160.7 232,160.7 232,158 235,158 235,156.5 238,156.5 238,155 241,155 241,154.7 244,154.7 244,154.3 247,154.3 247,153.9 250,153.9 250,153.6 254,153.6 254,153 258,153 258,152.4 261,152.4 261,151.2 264,151.2 264,150 267,150 267,149.8 270,149.8 270,149.5 273,149.5 273,149.2 276,149.2 276,149 279,149 279,148.5 282,148.5 282,148 285,148 285,147.5 288,147.5 288,147 291.3,147 291.3,145.7 294.7,145.7 294.7,144.3 298,144.3 298,143 301,143 301,142 304,142 304,141 306,140 308,140 308,137 310,137 310,134 312.5,134 312.5,131.5 315,131.5 315,129 317.5,129 317.5,126 320,126 320,123 322,123 322,120.5 324,120.5 324,118 325.7,118 325.7,114.7 327.3,114.7 327.3,111.3 329,111.3 329,108 330,108 330,104.7 331,104.7 331,101.3 332,101.3 332,98 333.2,98 333.2,95 334.5,95 334.5,92 335.8,92 335.8,89 337,89 337,86 338.7,86 338.7,83.3 340.3,83.3 340.3,80.7 342,80.7 342,78 346,78 346,77 350,77 350,76 352,76 352,73.5 354,73.5 354,71 357,71 357,70.2 360,70.2 360,69.5 363,69.5 363,68.8 366,68.8 366,68 368,68 368,66 370,66 370,64 373,64 373,63 376,63 376,62 379,62 379,61 382,61 382,60 385.2,60 385.2,59.6 388.4,59.6 388.4,59.2 391.6,59.2 391.6,58.8 394.8,58.8 394.8,58.4 398,58.4 398,58 401,58 401,56.5 404,56.5 404,55 406.7,55 406.7,54 409.3,54 409.3,53 412,53 412,52 414,52 414,49 416,49 416,46 418,46 418,44 420,44 420,42 421.5,42 421.5,38.2 423,38.2 423,34.5 424.7,34.5 424.7,32 426.3,32 426.3,29.5 428,29.5 428,27 431,27 431,25.5 434,25.5 434,24 436.6,24 436.6,22.2 439.3,22.2 439.3,20.4 448,19.6 451.4,19.6 451.4,19 454.8,19 454.8,18.5 458.2,18.5 458.2,17.9 461.3,17.9 461.3,17.6 464.4,17.6 464.4,17.2 467.5,17.2 467.5,16.9 470.7,16.9 470.7,16.6 473.8,16.6 473.8,16.3 476.9,16.3 476.9,15.9 480,15.9 480,15.6 494,15.3 497,15.3 497,14.9 500,14.9 500,14.5 545,14.3" stroke="#00c3ff" stroke-width="1.5"/>
<path d="M62.5 409H120" stroke="#ffdc14" stroke-width="2"/>
<path d="M71 409H84.5" stroke="#ff6414" stroke-width="2"/>
<path d="M84.5 409H91.5" stroke="#1edcdc" stroke-width="2"/>
<path d="M98.5 409H101.5" stroke="#ff8214" stroke-width="2"/>
<path d="M115.5 409H120.5" stroke="#ff3c14" stroke-width="2"/>
</g>
<rect x="108.9" y="359.8" width="1.3" height="1.3" fill="#dc46dc"/>
<g fill="none" stroke="#000" stroke-width="1">
<rect x="62" y="11.5" width="479.5" height="412.7"/>
<path d="M64.7 424.2V430.8"/>
<path d="M208.6 424.2V430.8"/>
<path d="M352.6 424.2V430.8"/>
<path d="M496.5 424.2V430.8"/>
<path d="M53.4 409H62"/>
<path d="M53.4 330H62"/>
<path d="M53.4 251.1H62"/>
<path d="M53.4 172.1H62"/>
<path d="M53.4 93.2H62"/>
<path d="M53.4 14.2H62"/>
</g>
<g font-size="14" text-anchor="middle">
<text x="64.6" y="444.3">0</text>
<text x="209.7" y="444.3">1000</text>
<text x="354.6" y="444.3">2000</text>
<text x="498" y="444.3">3000</text>
</g>
<g font-size="13.8" text-anchor="middle">
<text transform="translate(51.4 408.7) rotate(-90)">0.0</text>
<text transform="translate(51.4 329.7) rotate(-90)">0.2</text>
<text transform="translate(51.4 250.8) rotate(-90)">0.4</text>
<text transform="translate(51.4 171.8) rotate(-90)">0.6</text>
<text transform="translate(51.4 92.9) rotate(-90)">0.8</text>
<text transform="translate(51.4 13.9) rotate(-90)">1.0</text>
</g>
<text transform="translate(21.1 314.4) rotate(-90) scale(1.06 1)" font-size="18" textLength="221.2" lengthAdjust="spacing">Cumulative proportion (%)</text>
<g font-size="22">
<text x="85" y="63.4">A</text>
<text x="79.5" y="347">B</text>
<text x="285" y="223.9">C</text>
</g>
<rect x="440.2" y="296.8" width="89.8" height="115.7" fill="#fff" stroke="#222" stroke-width="1.1"/>
<g class="ln" stroke-width="2.3">
<path d="M456.1 313.3H492" stroke="#ff6a14"/>
<path d="M456.1 329.8H492" stroke="#8cc88c"/>
<path d="M456.1 346.3H492" stroke="#fdcc96"/>
<path d="M456.1 362.8H492" stroke="#dcecf0"/>
<path d="M456.1 379.4H492" stroke="#0000e6"/>
<path d="M456.1 395.9H492" stroke="#00c3ff"/>
</g>
<g font-size="13">
<text x="507.4" y="317.8">D</text>
<text x="507.4" y="334.3">C</text>
<text x="507.4" y="350.8">P</text>
<text x="507.4" y="367.3">T</text>
<text x="507.4" y="383.9">J</text>
<text x="507.4" y="400.4">K</text>
</g>
</svg></body></html>
